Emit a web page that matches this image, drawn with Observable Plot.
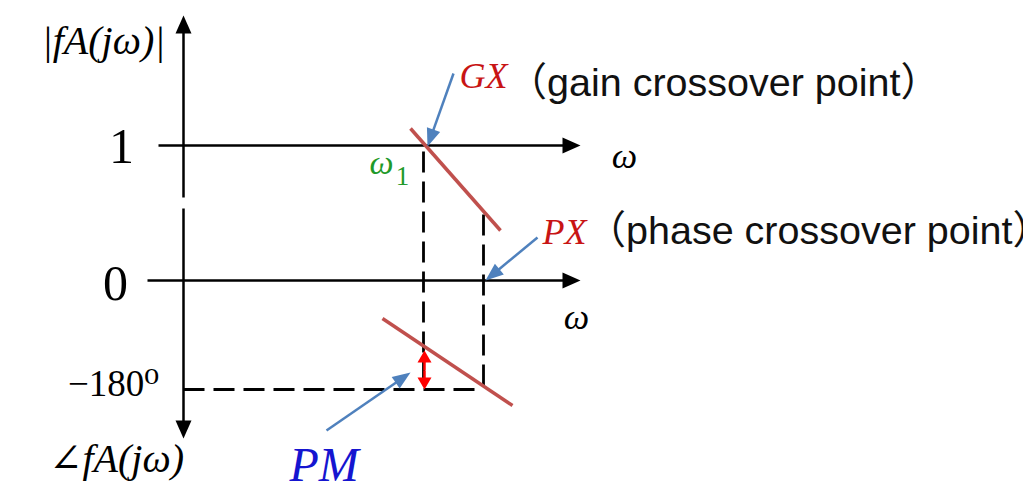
<!DOCTYPE html>
<html><head><meta charset="utf-8">
<script src="https://cdn.jsdelivr.net/npm/d3@7"></script>
<script src="https://cdn.jsdelivr.net/npm/@observablehq/plot@0.6"></script>
<style>html,body{margin:0;padding:0;background:#fff;overflow:hidden}svg{overflow:hidden}</style>
</head><body><div id="chart"></div>
<script>
// Diagram coordinates: 1 unit = 1 px of the drawing, y grows downward.
const axes = [
  {name: "|fA(jω)| axis", x1: 183, y1: 197, x2: 183, y2: 15},
  {name: "∠fA(jω) axis", x1: 183, y1: 208, x2: 183, y2: 438},
  {name: "ω axis at |fA| = 1", x1: 158, y1: 145, x2: 580, y2: 145},
  {name: "ω axis at ∠fA = 0", x1: 147, y1: 280, x2: 580, y2: 280}
];
const guides = [
  {name: "ω1 drop", x1: 423, y1: 151, x2: 423, y2: 389},
  {name: "PX drop", x1: 483, y1: 214, x2: 483, y2: 389},
  {name: "−180° level", x1: 183, y1: 389, x2: 483, y2: 389}
];
const curves = [
  {name: "gain", x1: 410, y1: 128, x2: 500, y2: 230},
  {name: "phase", x1: 382, y1: 318, x2: 512, y2: 405}
];
const pointers = [
  {name: "GX", x1: 453, y1: 73, x2: 427, y2: 146},
  {name: "PX", x1: 537, y1: 237, x2: 485, y2: 280},
  {name: "PM", x1: 326, y1: 430, x2: 410, y2: 372}
];
const margin = [
  {name: "PM up", x1: 424, y1: 370, x2: 424, y2: 350},
  {name: "PM down", x1: 424, y1: 370, x2: 424, y2: 389}
];
const tickLabels = [{text: "1", x: 121, y: 162}, {text: "0", x: 115, y: 299}];
const phaseTick = [{text: "−180⁰", x: 113, y: 395}];
const axisTitles = [{text: "|fA(jω)|", x: 103, y: 53}, {text: "∠fA(jω)", x: 116, y: 471}];
const omegaLabels = [{text: "ω", x: 624, y: 167}, {text: "ω", x: 576, y: 328}];
const omega1 = [{text: "ω", x: 381, y: 173}];
const omega1Sub = [{text: "1", x: 402, y: 184}];
const pointNames = [{text: "GX", x: 459, y: 87}, {text: "PX", x: 542, y: 243}];
const pointNotes = [{text: "（gain crossover point）", x: 507, y: 95}, {text: "（phase crossover point）", x: 586, y: 243}];
const marginLabel = [{text: "PM", x: 289, y: 480}];

function heads(arr, L, W) {
  const pts = [], shafts = [];
  arr.forEach((a, i) => {
    const dx = a.x2 - a.x1, dy = a.y2 - a.y1, len = Math.hypot(dx, dy);
    const ux = dx / len, uy = dy / len;
    const bx = a.x2 - ux * L, by = a.y2 - uy * L;
    pts.push({id: i, x: a.x2, y: a.y2}, {id: i, x: bx - uy * W, y: by + ux * W}, {id: i, x: bx + uy * W, y: by - ux * W});
    shafts.push({x1: a.x1, y1: a.y1, x2: a.x2 - ux * L * 0.7, y2: a.y2 - uy * L * 0.7});
  });
  return {pts, shafts};
}
const axisH = heads(axes, 18, 8);
const ptrH = heads(pointers, 18, 7);
const pmH = heads(margin, 12, 7);

const serif = "'Liberation Serif', 'DejaVu Serif', serif";
const sans = "'Liberation Sans', Arial, 'Noto Sans CJK SC', sans-serif";
const T = {x: "x", y: "y", text: "text", lineAnchor: "bottom"};

const chart = Plot.plot({
  width: 1023, height: 500, margin: 0,
  x: {domain: [0, 1023], range: [0, 1023], axis: null},
  y: {domain: [0, 500], range: [0, 500], axis: null},
  style: {background: "white", overflow: "hidden"},
  marks: [
    Plot.link(guides, {x1: "x1", y1: "y1", x2: "x2", y2: "y2", stroke: "black", strokeWidth: 2.8, strokeDasharray: "21,9"}),
    Plot.link(axisH.shafts, {x1: "x1", y1: "y1", x2: "x2", y2: "y2", stroke: "black", strokeWidth: 2.5}),
    Plot.line(axisH.pts, {x: "x", y: "y", z: "id", fill: "black", stroke: "none", curve: "linear-closed"}),
    Plot.link(curves, {x1: "x1", y1: "y1", x2: "x2", y2: "y2", stroke: "#c0504d", strokeWidth: 3.5}),
    Plot.link(ptrH.shafts, {x1: "x1", y1: "y1", x2: "x2", y2: "y2", stroke: "#4f81bd", strokeWidth: 2.5}),
    Plot.line(ptrH.pts, {x: "x", y: "y", z: "id", fill: "#4f81bd", stroke: "none", curve: "linear-closed"}),
    Plot.link(pmH.shafts, {x1: "x1", y1: "y1", x2: "x2", y2: "y2", stroke: "#ff0000", strokeWidth: 2.5}),
    Plot.line(pmH.pts, {x: "x", y: "y", z: "id", fill: "#ff0000", stroke: "none", curve: "linear-closed"}),
    Plot.text(tickLabels, {...T, fontFamily: serif, fontSize: 50, fill: "black"}),
    Plot.text(phaseTick, {...T, fontFamily: serif, fontSize: 37, fill: "black"}),
    Plot.text(axisTitles, {...T, fontFamily: serif, fontStyle: "italic", fontSize: 40, fill: "black"}),
    Plot.text(omegaLabels, {...T, fontFamily: serif, fontStyle: "italic", fontSize: 36, fill: "black"}),
    Plot.text(omega1, {...T, fontFamily: serif, fontStyle: "italic", fontSize: 34, fill: "#1f9a2a"}),
    Plot.text(omega1Sub, {...T, fontFamily: serif, fontSize: 27, fill: "#1f9a2a"}),
    Plot.text(pointNames, {...T, textAnchor: "start", fontFamily: serif, fontStyle: "italic", fontSize: 36, fill: "#c81414"}),
    Plot.text(pointNotes, {...T, textAnchor: "start", fontFamily: sans, fontSize: 39.5, fill: "#111"}),
    Plot.text(marginLabel, {...T, textAnchor: "start", fontFamily: serif, fontStyle: "italic", fontSize: 48, fill: "#1515d0"})
  ]
});
document.getElementById("chart").appendChild(chart);
</script></body></html>
